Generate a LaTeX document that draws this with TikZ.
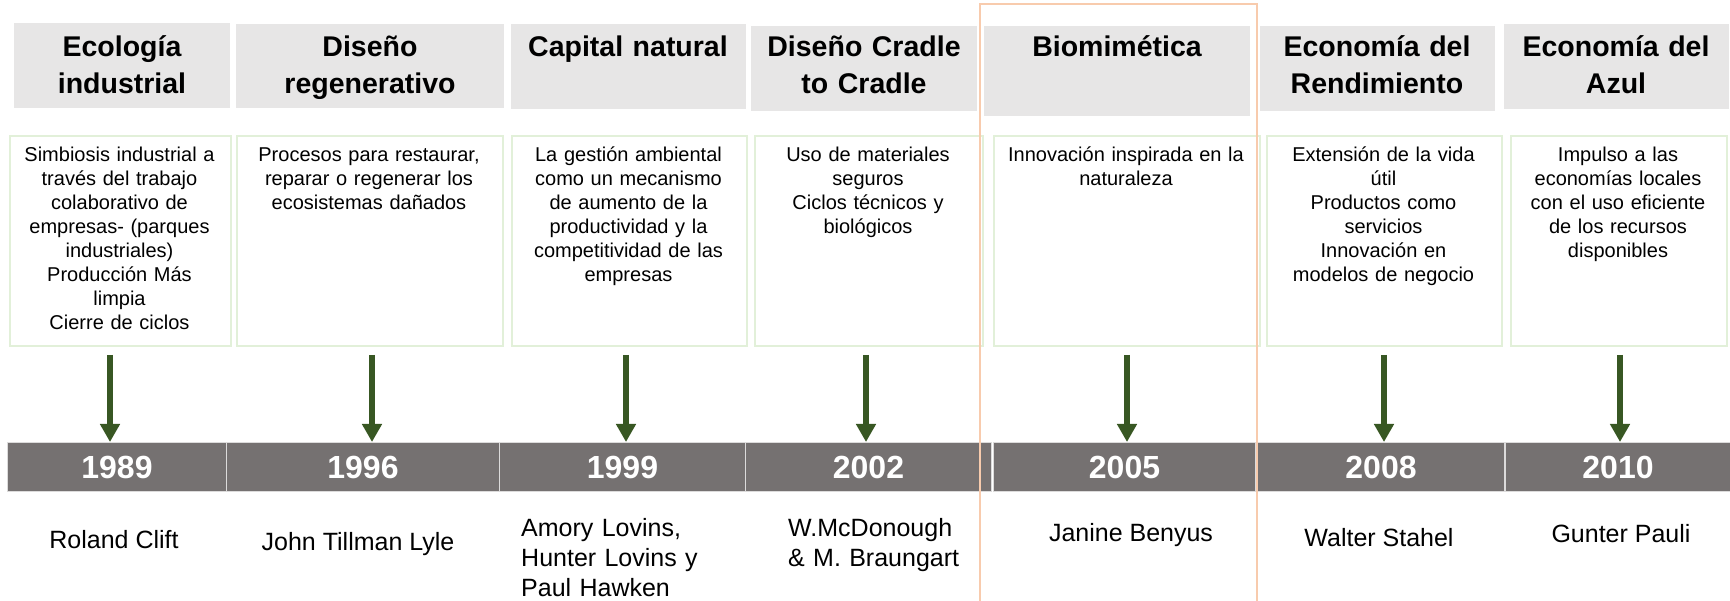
\documentclass[tikz,border=0pt]{standalone}
\usepackage{fontspec}
\setmainfont{Liberation Sans}
\usetikzlibrary{arrows.meta,positioning}
\definecolor{headgray}{HTML}{E7E6E6}
\definecolor{boxgreen}{HTML}{E2F0D9}
\definecolor{bargray}{HTML}{757171}
\definecolor{arrowgreen}{HTML}{385723}
\definecolor{markorange}{HTML}{F8CBAD}
\begin{document}
\begin{tikzpicture}[x=1pt,y=-1pt,
head box/.style = {fill=headgray, anchor=north west, inner sep=0pt},
head text/.style = {anchor=base, align=center, inner sep=0pt, font=\bfseries\fontsize{28.5}{36.5}\selectfont},
desc box/.style = {draw=boxgreen, line width=1.8pt, anchor=north west, inner sep=0pt, minimum height=210pt},
desc text/.style = {anchor=base, align=center, inner sep=0pt, font=\fontsize{20}{24}\selectfont},
year cell/.style = {fill=bargray, draw=white!75!bargray, line width=1pt, anchor=north west, inner sep=0pt, minimum height=49pt, text=white, font=\bfseries\fontsize{32}{36}\selectfont},
author/.style = {inner sep=0pt, font=\fontsize{25}{30}\selectfont},
time arrow/.style = {draw=arrowgreen, line width=5.5pt, -{Triangle[width=19pt,length=18pt]}}]

\fill[white] (0,0) rectangle (1730,601);
\useasboundingbox (0,0) rectangle (1730,601);

\node[head box, minimum width=216pt, minimum height=85pt] (h1) at (14,23) {};
\node[head box, minimum width=268pt, minimum height=84pt] (h2) at (236,24) {};
\node[head box, minimum width=235pt, minimum height=85pt] (h3) at (511,24) {};
\node[head box, minimum width=226pt, minimum height=85pt] (h4) at (751,26) {};
\node[head box, minimum width=266pt, minimum height=90pt] (h5) at (984,26) {};
\node[head box, minimum width=235pt, minimum height=85pt] (h6) at (1260,26) {};
\node[head box, minimum width=225pt, minimum height=85pt] (h7) at (1504,24) {};

\node[head text, text width=216pt] (t1) at (122,57) {Ecología\\industrial};
\node[head text, text width=268pt] (t2) at (370,57) {Diseño\\regenerativo};
\node[head text, text width=235pt] (t3) at (628,57) {Capital natural};
\node[head text, text width=226pt] (t4) at (864,57) {Diseño Cradle\\to Cradle};
\node[head text, text width=266pt] (t5) at (1117,57) {Biomimética};
\node[head text, text width=235pt] (t6) at (1377,57) {Economía del\\Rendimiento};
\node[head text, text width=225pt] (t7) at (1616,57) {Economía del\\Azul};

\node[desc box, minimum width=221pt] (d1) at (9,135) {};
\node[desc box, minimum width=266pt] (d2) at (236,135) {};
\node[desc box, minimum width=235pt] (d3) at (511,135) {};
\node[desc box, minimum width=228pt] (d4) at (754,135) {};
\node[desc box, minimum width=266pt] (d5) at (993,135) {};
\node[desc box, minimum width=235pt] (d6) at (1266,135) {};
\node[desc box, minimum width=216pt] (d7) at (1510,135) {};

\node[desc text, text width=215pt] (e1) at (119.5,162) {Simbiosis industrial a\\través del trabajo\\colaborativo de\\empresas- (parques\\industriales)\\Producción Más\\limpia\\Cierre de ciclos};
\node[desc text, text width=260pt] (e2) at (369,162) {Procesos para restaurar,\\reparar o regenerar los\\ecosistemas dañados};
\node[desc text, text width=229pt] (e3) at (628.5,162) {La gestión ambiental\\como un mecanismo\\de aumento de la\\productividad y la\\competitividad de las\\empresas};
\node[desc text, text width=222pt] (e4) at (868,162) {Uso de materiales\\seguros\\Ciclos técnicos y\\biológicos};
\node[desc text, text width=260pt] (e5) at (1126,162) {Innovación inspirada en la\\naturaleza};
\node[desc text, text width=229pt] (e6) at (1383.5,162) {Extensión de la vida\\útil\\Productos como\\servicios\\Innovación en\\modelos de negocio};
\node[desc text, text width=210pt] (e7) at (1618,162) {Impulso a las\\economías locales\\con el uso eficiente\\de los recursos\\disponibles};

\node[year cell, minimum width=219pt] (y1) at (7,442) {1989};
\node[year cell, minimum width=273pt] (y2) at (226,442) {1996};
\node[year cell, minimum width=246pt] (y3) at (499,442) {1999};
\node[year cell, minimum width=246pt] (y4) at (745,442) {2002};
\node[year cell, minimum width=262pt] (y5) at (993,442) {2005};
\node[year cell, minimum width=247pt] (y6) at (1257,442) {2008};
\node[year cell, minimum width=225pt] (y7) at (1505,442) {2010};

\coordinate (a1) at (110,355);
\coordinate (a2) at (372,355);
\coordinate (a3) at (626,355);
\coordinate (a4) at (866,355);
\coordinate (a5) at (1127,355);
\coordinate (a6) at (1384,355);
\coordinate (a7) at (1620,355);

\draw[time arrow] (a1) -- (a1 |- y1.north);
\draw[time arrow] (a2) -- (a2 |- y2.north);
\draw[time arrow] (a3) -- (a3 |- y3.north);
\draw[time arrow] (a4) -- (a4 |- y4.north);
\draw[time arrow] (a5) -- (a5 |- y5.north);
\draw[time arrow] (a6) -- (a6 |- y6.north);
\draw[time arrow] (a7) -- (a7 |- y7.north);

\node[author, anchor=base] (n1) at (114,548) {Roland Clift};
\node[author, anchor=base] (n2) at (358,550) {John Tillman Lyle};
\node[author, anchor=base west, align=left, text width=180pt] (n3) at (521,536) {Amory Lovins,\\Hunter Lovins y\\Paul Hawken};
\node[author, anchor=base west, align=left, text width=180pt] (n4) at (788,536) {W.McDonough\\\& M. Braungart};
\node[author, anchor=base] (n5) at (1131,541) {Janine Benyus};
\node[author, anchor=base] (n6) at (1379,546) {Walter Stahel};
\node[author, anchor=base] (n7) at (1621,542) {Gunter Pauli};

\draw[markorange, line width=2pt] (980,601) -- (980,4) -- (1257,4) -- (1257,601);
\end{tikzpicture}
\end{document}
